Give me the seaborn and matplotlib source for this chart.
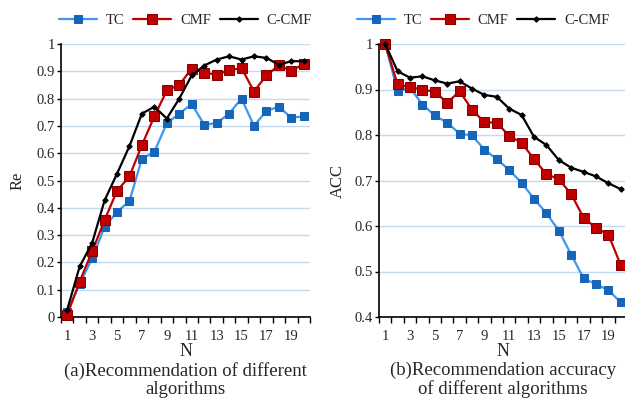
import numpy as np
import pandas as pd
import matplotlib
matplotlib.use("Agg")
import matplotlib.pyplot as plt
import seaborn as sns

# Valeurs
N = list(range(1, 21))

re_tc = [0.02, 0.12, 0.215, 0.33, 0.385, 0.425, 0.58, 0.605, 0.71, 0.745,
         0.78, 0.705, 0.71, 0.745, 0.80, 0.70, 0.755, 0.77, 0.73, 0.735]
re_cmf = [0.008, 0.13, 0.24, 0.355, 0.462, 0.515, 0.63, 0.735, 0.83, 0.85,
          0.91, 0.895, 0.888, 0.904, 0.912, 0.826, 0.885, 0.922, 0.90, 0.928]
re_ccmf = [0.027, 0.185, 0.271, 0.427, 0.525, 0.626, 0.745, 0.77, 0.727, 0.80,
           0.885, 0.921, 0.943, 0.955, 0.943, 0.955, 0.949, 0.924, 0.937, 0.937]

acc_tc = [1.0, 0.896, 0.904, 0.867, 0.843, 0.827, 0.803, 0.799, 0.768, 0.747,
          0.723, 0.695, 0.66, 0.628, 0.59, 0.537, 0.485, 0.472, 0.459, 0.432]
acc_cmf = [1.0, 0.911, 0.905, 0.90, 0.895, 0.871, 0.896, 0.856, 0.828, 0.827,
           0.798, 0.783, 0.747, 0.714, 0.703, 0.67, 0.618, 0.596, 0.581, 0.514]
acc_ccmf = [1.0, 0.94, 0.926, 0.929, 0.92, 0.913, 0.918, 0.902, 0.888, 0.884,
            0.858, 0.844, 0.796, 0.778, 0.745, 0.728, 0.719, 0.709, 0.694, 0.681]

algos = ["TC", "CMF", "C-CMF"]

# Styles des séries
styles = {
    "TC": dict(color="#3d97f0", marker="s", markersize=5.5,
               markerfacecolor="#1566b8", markeredgecolor="#1566b8"),
    "CMF": dict(color="#c00000", marker="s", markersize=7,
                markerfacecolor="#c00000", markeredgecolor="#8a0000"),
    "C-CMF": dict(color="black", marker="D", markersize=2.8,
                  markerfacecolor="black", markeredgecolor="black"),
}

sns.set_style("white")
plt.rcParams["font.family"] = ["Liberation Serif", "DejaVu Serif"]

fig = plt.figure(figsize=(6.25, 4), dpi=100)
ax1 = fig.add_axes([61 / 625, 83 / 400, 249 / 625, 273 / 400])
ax2 = fig.add_axes([379 / 625, 83 / 400, 248 / 625, 273 / 400])


def draw(ax, series, ylabel, ylim, ypad, leg_x):
    for name, vals in zip(algos, series):
        df = pd.DataFrame({"N": N, "val": vals})
        sns.lineplot(data=df, x="N", y="val", ax=ax, label=name,
                     linewidth=1.6, clip_on=False, zorder=3, **styles[name])

    ax.set_xlim(0.5, 20.5)
    ax.set_ylim(*ylim)
    yt = np.round(np.arange(ylim[0], ylim[1] + 0.001, 0.1), 1)
    ax.set_yticks(yt)
    ax.set_yticklabels(["0" if v == 0 else ("1" if v == 1 else f"{v:.1f}") for v in yt])
    ax.set_xticks(list(range(1, 20, 2)))
    ax.set_xticklabels([str(v) for v in range(1, 20, 2)])
    ax.set_xticks(np.arange(0.5, 21, 1), minor=True)
    ax.tick_params(axis="x", which="major", length=0, pad=9, labelsize=10.5)
    ax.tick_params(axis="x", which="minor", length=4, width=1, direction="out",
                   color="black", bottom=True)
    ax.tick_params(axis="y", length=3, width=1, direction="out", pad=1.5,
                   labelsize=10.5, left=True, color="black")

    ax.grid(axis="y", color="#c6d9f1", linewidth=1)
    ax.grid(axis="x", visible=False)
    sns.despine(ax=ax)
    for s in ["left", "bottom"]:
        ax.spines[s].set_color("black")
        ax.spines[s].set_linewidth(1.2)

    ax.set_xlabel("N", fontsize=13, labelpad=0)
    ax.set_ylabel(ylabel, fontsize=12, labelpad=ypad)

    ax.legend(loc="lower center", bbox_to_anchor=(leg_x, 1.04), ncol=3,
              frameon=False, fontsize=10.5, handlelength=2.6,
              columnspacing=0.6, handletextpad=0.6, borderaxespad=0)


draw(ax1, [re_tc, re_cmf, re_ccmf], "Re", (0, 1), 8, 0.5)
draw(ax2, [acc_tc, acc_cmf, acc_ccmf], "ACC", (0.4, 1), 6, 0.42)

fig.text((61 + 249 / 2) / 625, 0.05, "(a)Recommendation of different\nalgorithms",
         ha="center", va="center", fontsize=13.5, linespacing=1.1)
fig.text((379 + 248 / 2) / 625, 0.05, "(b)Recommendation accuracy\nof different algorithms",
         ha="center", va="center", fontsize=13.5, linespacing=1.1)

plt.savefig("out.png", dpi=100)
